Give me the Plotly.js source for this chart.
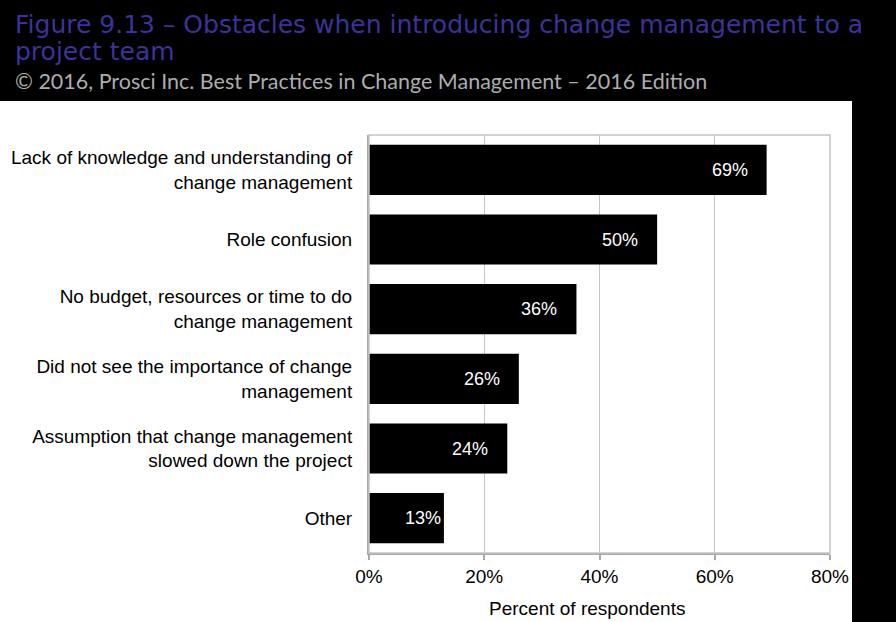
<!DOCTYPE html>
<html>
<head>
<meta charset="utf-8">
<script src="https://cdn.plot.ly/plotly-3.0.1.min.js"></script>
<style>html,body{margin:0;padding:0;background:#fff;}#chart{width:896px;height:622px;}</style>
</head>
<body>
<div id="chart"></div>
<script>
const categories = [
  "Lack of knowledge and understanding of<br>change management",
  "Role confusion",
  "No budget, resources or time to do<br>change management",
  "Did not see the importance of change<br>management",
  "Assumption that change management<br>slowed down the project",
  "Other"
];
const values = [69, 50, 36, 26, 24, 13];
const valueLabels = ["69%", "50%", "36%", "26%", "24%", "13%"];
const tickVals = [0, 20, 40, 60, 80];
const tickText = ["0%", "20%", "40%", "60%", "80%"];
const titleLine1 = 'Figure 9.13 – Obstacles when introducing change management to a';
const titleLine2 = 'project team';
const subtitle = '© 2016, Prosci Inc. Best Practices in Change Management – 2016 Edition';
const xTitle = 'Percent of respondents';

const W = 896, H = 622;
const L = 369, R = 830, T = 135, B = 553;
const px = x => (x - L) / (R - L);
const py = y => (B - y) / (B - T);
const ARIAL = 'Liberation Sans, Arial, sans-serif';
const TITLE_FONT = {family: 'DejaVu Sans, Verdana, sans-serif', size: 25, color: '#3b3399'};

const trace = {
  type: 'bar',
  orientation: 'h',
  y: categories,
  x: values,
  marker: {color: '#000000', line: {width: 0}},
  width: 0.72,
  hoverinfo: 'skip'
};

const annotations = values.map((v, i) => ({
  x: v, y: categories[i], xref: 'x', yref: 'y',
  text: valueLabels[i], showarrow: false,
  xanchor: 'right', xshift: v < 20 ? -1 : -17,
  font: {family: ARIAL, size: 18, color: '#ffffff'}
}));

annotations.push({
  xref: 'paper', yref: 'paper', x: px(13), y: py(51), xanchor: 'left', yanchor: 'middle',
  text: titleLine2, showarrow: false, font: TITLE_FONT
});
annotations.push({
  xref: 'paper', yref: 'paper', x: px(13), y: py(81), xanchor: 'left', yanchor: 'middle',
  text: subtitle, showarrow: false, font: {family: 'Lato, sans-serif', size: 21.5, color: '#adadad'}
});
annotations.push({
  xref: 'paper', yref: 'paper', x: px(587), y: py(608), xanchor: 'center', yanchor: 'middle',
  text: xTitle, showarrow: false,
  font: {family: ARIAL, size: 19, color: '#000000'}
});

const layout = {
  width: W, height: H,
  margin: {l: L, r: W - R, t: T, b: H - B, pad: 0},
  paper_bgcolor: '#ffffff',
  plot_bgcolor: '#ffffff',
  showlegend: false,
  title: {
    text: titleLine1,
    x: 15 / W, xref: 'container', xanchor: 'left',
    y: 1 - 24 / H, yref: 'container', yanchor: 'middle',
    pad: {t: 0, b: 0, l: 0, r: 0},
    font: TITLE_FONT
  },
  xaxis: {
    range: [0, 80],
    tickvals: tickVals, ticktext: tickText,
    showgrid: true, gridcolor: '#c4c4c4', gridwidth: 1,
    zeroline: false,
    showline: true, linecolor: '#a8a8a8', linewidth: 2, mirror: false,
    ticks: 'outside', ticklen: 5, tickcolor: '#a8a8a8', tickwidth: 2,
    tickfont: {family: ARIAL, size: 19, color: '#000000'},
    fixedrange: true
  },
  yaxis: {
    autorange: 'reversed',
    showgrid: false, zeroline: false,
    showline: true, linecolor: '#a8a8a8', linewidth: 2,
    ticks: '', ticklabelstandoff: 11,
    tickfont: {family: ARIAL, size: 19, color: '#000000'},
    fixedrange: true
  },
  shapes: [
    {type: 'rect', xref: 'paper', yref: 'paper', x0: 0, x1: 1, y0: 0, y1: 1,
     line: {color: '#c4c4c4', width: 1.5}, fillcolor: 'rgba(0,0,0,0)', layer: 'above'},
    {type: 'rect', xref: 'paper', yref: 'paper', x0: px(-5), x1: px(W + 5), y0: py(101), y1: py(-5),
     line: {width: 0}, fillcolor: '#000000', layer: 'below'},
    {type: 'rect', xref: 'paper', yref: 'paper', x0: px(852), x1: px(W + 5), y0: py(H + 5), y1: py(101),
     line: {width: 0}, fillcolor: '#000000', layer: 'below'}
  ],
  annotations: annotations
};

Plotly.newPlot('chart', [trace], layout, {displayModeBar: false, staticPlot: true});
</script>
</body>
</html>
